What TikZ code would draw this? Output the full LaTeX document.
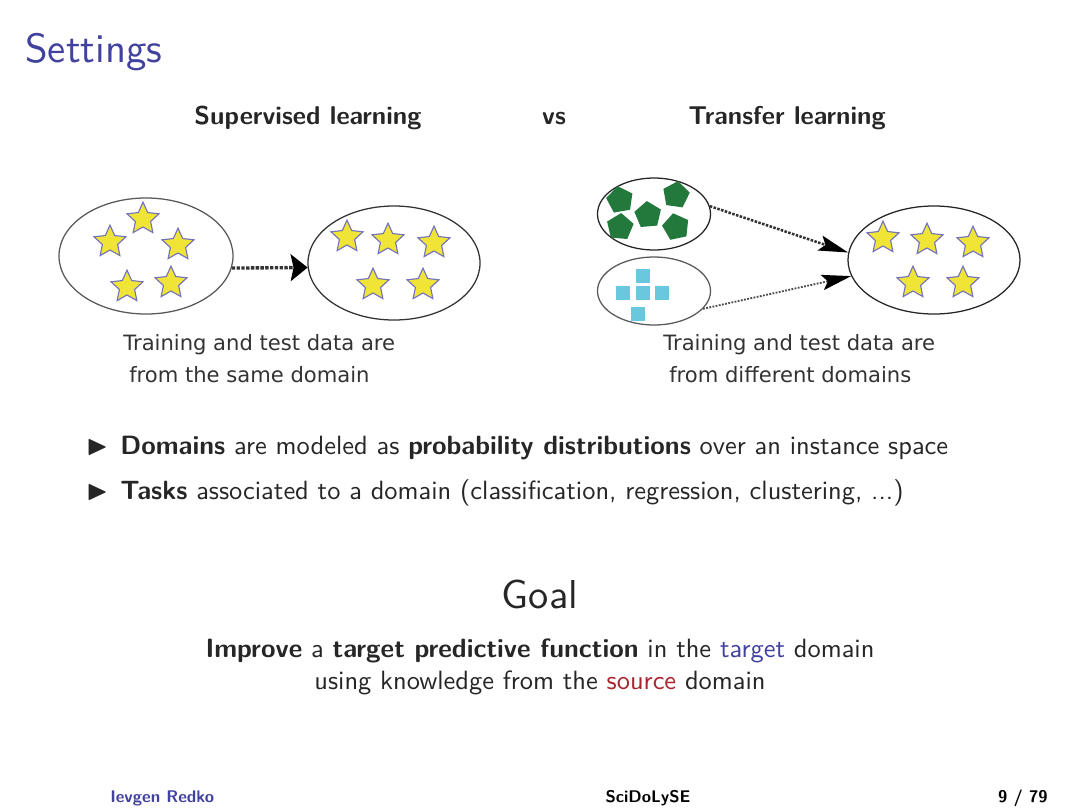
\documentclass[tikz,border=0pt]{standalone}
\usepackage{fontspec}
\usepackage{amssymb}
\usepackage{tikz}
\usetikzlibrary{shapes.geometric,arrows.meta}
\setsansfont{lmsans10-regular}[Extension=.otf,BoldFont=lmsans10-bold]
\newfontfamily\pictfont{DejaVu Sans}
\definecolor{structblue}{RGB}{65,65,160}
\definecolor{alertred}{RGB}{170,35,45}
\definecolor{slidetext}{rgb}{0.15,0.15,0.15}
\definecolor{starfill}{RGB}{240,228,55}
\definecolor{starline}{RGB}{115,115,190}
\definecolor{pentgreen}{RGB}{35,120,60}
\definecolor{sqblue}{RGB}{105,200,222}
\tikzset{
  domainell/.style={ellipse,draw=black!65,line width=0.9pt,inner sep=0pt},
  yellowstar/.style={star,star points=5,star point ratio=2.1,minimum size=0.84cm,
    inner sep=0pt,fill=starfill,draw=starline,line width=0.8pt},
  greenpent/.style={regular polygon,regular polygon sides=5,minimum size=0.7cm,
    inner sep=0pt,fill=pentgreen},
  bluesq/.style={rectangle,minimum size=0.33cm,inner sep=0pt,fill=sqblue},
  sametransfer/.style={densely dotted,line width=2.4pt,draw=black!80,
    -{Stealth[length=12pt,width=19pt,inset=2pt,black]}},
  difftransfer/.style={densely dotted,line width=1.8pt,draw=black!80,
    -{Stealth[length=21pt,width=11pt,inset=4pt,black]}},
  captext/.style={anchor=base west,inner sep=0pt,font=\pictfont\fontsize{15}{18}\selectfont,text=black!80},
  slidetxt/.style={inner sep=0pt,text=slidetext,font=\sffamily\fontsize{18.8}{22}\selectfont},
  headtxt/.style={inner sep=0pt,anchor=base,text=slidetext,font=\sffamily\bfseries\fontsize{18.3}{22}\selectfont},
  bullet/.style={inner sep=0pt,text=slidetext,font=\fontsize{20}{20}\selectfont}
}
\begin{document}
\begin{tikzpicture}[x=0.025cm,y=-0.025cm]
\useasboundingbox[fill=white] (0,0) rectangle (1080,810);

% title
\node[anchor=base west,inner sep=0pt,text=structblue,font=\sffamily\fontsize{29}{34}\selectfont]
  (title) at (25,62) {Settings};

\node[headtxt] (suphead) at (308,124) {Supervised learning};
\node[headtxt] (vs) at (554,124) {vs};
\node[headtxt] (trhead) at (787,124) {Transfer learning};

% supervised learning
\node[domainell,minimum width=4.35cm,minimum height=2.9cm] (suptrain) at (146,256) {};
\node[domainell,draw=black!80,minimum width=4.3cm,minimum height=2.85cm] (suptest) at (394,263) {};
\foreach \x/\y [count=\i] in {143/219,110/242,178/245,127/287,171/283}
  \node[yellowstar] (sa\i) at (\x,\y) {};
\foreach \x/\y [count=\i] in {347/237,388/240,434/243,373/285,423/285}
  \node[yellowstar] (sb\i) at (\x,\y) {};
\draw[sametransfer] (suptrain.-8) -- (suptest.183);

\node[captext] (supcap1) at (123,350) {Training and test data are};
\node[captext] (supcap2) at (129,382) {from the same domain};

% transfer learning
\node[domainell,draw=black!85,minimum width=2.825cm,minimum height=1.8cm] (srcone) at (654,214) {};
\node[domainell,minimum width=2.825cm,minimum height=1.7cm] (srctwo) at (654,291) {};
\node[domainell,draw=black!85,minimum width=4.3cm,minimum height=2.7cm] (target) at (934,260) {};
\foreach \x/\y/\r [count=\i] in {620/200/10,676/195/-8,648/215/5,620/227/-5,676/227/12}
  \node[greenpent,rotate=\r] (pg\i) at (\x,\y) {};
\foreach \x/\y [count=\i] in {643/276,623/293,643/293,662/293,638/314}
  \node[bluesq] (bs\i) at (\x,\y) {};
\foreach \x/\y [count=\i] in {883/238,927/240,973/243,913/283,963/283}
  \node[yellowstar] (st\i) at (\x,\y) {};
\draw[difftransfer] (srcone.8) -- (target.175);
\draw[difftransfer,line width=1.3pt,draw=black!70] (srctwo.-20) -- (target.191);

\node[captext] (trcap1) at (663,350) {Training and test data are};
\node[captext] (trcap2) at (669,382) {from different domains};

% items
\node[bullet,anchor=base west] (bul1) at (86,454) {$\blacktriangleright$};
\node[slidetxt,anchor=base west] (item1) at (120,454)
  {\textbf{Domains} are modeled as \textbf{probability distributions} over an instance space};
\node[bullet,anchor=base west] (bul2) at (86,499) {$\blacktriangleright$};
\node[slidetxt,anchor=base west] (item2) at (120,499)
  {\textbf{Tasks} associated to a domain (classification, regression, clustering, ...)};

% goal
\node[slidetxt,anchor=base,font=\sffamily\fontsize{28.7}{34}\selectfont] (goal) at (540,608) {Goal};
\node[slidetxt,anchor=base] (goal1) at (540,657)
  {\textbf{Improve} a \textbf{target predictive function} in the \textcolor{structblue}{target} domain};
\node[slidetxt,anchor=base] (goal2) at (540,689)
  {using knowledge from the \textcolor{alertred}{source} domain};

% footline
\node[anchor=base west,inner sep=0pt,text=structblue,font=\sffamily\bfseries\fontsize{12}{14}\selectfont]
  (author) at (110,802) {Ievgen Redko};
\node[anchor=base,inner sep=0pt,text=black,font=\sffamily\bfseries\fontsize{12}{14}\selectfont]
  (event) at (648,802) {SciDoLySE};
\node[anchor=base east,inner sep=0pt,text=black,font=\sffamily\bfseries\fontsize{12}{14}\selectfont]
  (page) at (1048,802) {9 / 79};
\end{tikzpicture}
\end{document}
